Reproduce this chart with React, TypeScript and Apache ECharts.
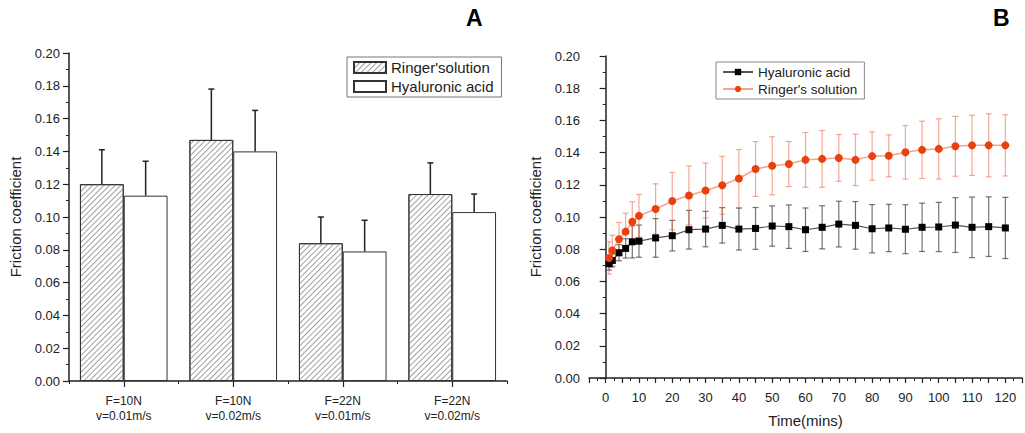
import React, { useEffect, useRef } from "react";
import * as echarts from "echarts";

// Panel A data
const categoriesA = ["F=10N\nv=0.01m/s", "F=10N\nv=0.02m/s", "F=22N\nv=0.01m/s", "F=22N\nv=0.02m/s"];
const ringerBar = [0.12, 0.147, 0.084, 0.114];
const ringerBarErr = [0.021, 0.031, 0.016, 0.019];
const haBar = [0.113, 0.14, 0.079, 0.103];
const haBarErr = [0.021, 0.025, 0.019, 0.011];

// Panel B data
const times = [1, 2, 4, 6, 8, 10, 15, 20, 25, 30, 35, 40, 45, 50, 55, 60, 65, 70, 75, 80, 85, 90, 95, 100, 105, 110, 115, 120];
const haLine = [0.071, 0.073, 0.0778, 0.0805, 0.0846, 0.085, 0.087, 0.0884, 0.0921, 0.0925, 0.0948, 0.0925, 0.0929, 0.0944, 0.094, 0.0921, 0.0936, 0.0956, 0.0948, 0.0927, 0.0932, 0.0924, 0.0936, 0.0938, 0.095, 0.0936, 0.094, 0.0932];
const haLineErr = [0.004, 0.004, 0.005, 0.006, 0.01, 0.01, 0.012, 0.0095, 0.012, 0.011, 0.011, 0.013, 0.013, 0.0125, 0.0135, 0.0135, 0.0134, 0.0142, 0.0148, 0.015, 0.0147, 0.0152, 0.015, 0.0153, 0.017, 0.0188, 0.0185, 0.019];
const ringerLine = [0.0745, 0.0792, 0.0862, 0.0909, 0.097, 0.1007, 0.105, 0.1099, 0.1134, 0.1165, 0.1197, 0.1239, 0.1298, 0.1318, 0.1329, 0.1355, 0.1361, 0.1367, 0.1355, 0.1378, 0.138, 0.1402, 0.1417, 0.1423, 0.1439, 0.1445, 0.1445, 0.1445];
const ringerLineErr = [0.01, 0.0095, 0.0104, 0.0115, 0.0125, 0.0133, 0.0156, 0.0178, 0.0183, 0.017, 0.018, 0.018, 0.017, 0.018, 0.014, 0.017, 0.0176, 0.0145, 0.016, 0.015, 0.013, 0.0166, 0.0178, 0.0187, 0.0186, 0.0187, 0.0196, 0.019];

const FONT = "Liberation Sans, Arial, sans-serif";
const TXT = "#222";
const AX = "#222";

const yAxisCommon = {
  type: "value",
  min: 0,
  max: 0.2,
  interval: 0.02,
  name: "Friction coefficient",
  nameLocation: "middle",
  nameGap: 46,
  nameTextStyle: { fontFamily: FONT, fontSize: 15, color: TXT },
  axisLine: { show: true, lineStyle: { color: AX, width: 1.5 } },
  axisTick: { show: true, length: 6, lineStyle: { color: AX, width: 1.2 } },
  minorTick: { show: true, splitNumber: 2, length: 3, lineStyle: { color: AX, width: 1 } },
  splitLine: { show: false },
  minorSplitLine: { show: false },
  axisLabel: { fontFamily: FONT, fontSize: 13, color: TXT, margin: 9, formatter: (v: number) => v.toFixed(2) },
};

function errBarA(offsetSign: number) {
  return (params: any, api: any) => {
    const idx = api.value(0);
    const val = api.value(1);
    const err = api.value(2);
    const slot = api.size([1, 0])[0];
    const off = offsetSign * slot * 0.2;
    const base = api.coord([idx, val]);
    const top = api.coord([idx, val + err]);
    const x = base[0] + off;
    const st = { stroke: "#222", lineWidth: 1.5 };
    return {
      type: "group",
      children: [
        { type: "line", shape: { x1: x, y1: base[1], x2: x, y2: top[1] }, style: st },
        { type: "line", shape: { x1: x - 3, y1: top[1], x2: x + 3, y2: top[1] }, style: st },
      ],
    };
  };
}

function errBarB(color: string) {
  return (params: any, api: any) => {
    const t = api.value(0);
    const v = api.value(1);
    const e = api.value(2);
    const hi = api.coord([t, v + e]);
    const lo = api.coord([t, v - e]);
    const st = { stroke: color, lineWidth: 1.2 };
    return {
      type: "group",
      children: [
        { type: "line", shape: { x1: hi[0], y1: hi[1], x2: lo[0], y2: lo[1] }, style: st },
        { type: "line", shape: { x1: hi[0] - 3, y1: hi[1], x2: hi[0] + 3, y2: hi[1] }, style: st },
        { type: "line", shape: { x1: lo[0] - 3, y1: lo[1], x2: lo[0] + 3, y2: lo[1] }, style: st },
      ],
    };
  };
}

export default function App() {
  const refA = useRef<HTMLDivElement>(null);
  const refB = useRef<HTMLDivElement>(null);

  useEffect(() => {
    document.body.style.margin = "0";
    const chartA = echarts.init(refA.current!, null, { renderer: "svg" });
    const chartB = echarts.init(refB.current!, null, { renderer: "svg" });

    const hatch = {
      symbol: "rect",
      symbolSize: 1,
      color: "#a0a0a0",
      dashArrayX: [1, 0],
      dashArrayY: [1, 3],
      rotation: -Math.PI / 4,
    };

    chartA.setOption({
      animation: false,
      backgroundColor: "#fff",
      textStyle: { fontFamily: FONT },
      grid: { left: 67, top: 53, width: 440, height: 328 },
      graphic: [
        { type: "text", left: 466, top: 6, style: { text: "A", fontFamily: FONT, fontSize: 23, fontWeight: "bold", fill: "#000" } },
      ],
      legend: {
        orient: "vertical",
        left: 347,
        top: 57,
        data: ["Ringer'solution", "Hyaluronic acid"],
        icon: "rect",
        itemWidth: 32,
        itemHeight: 11,
        itemGap: 4,
        padding: [3, 8, 3, 6],
        borderColor: "#777",
        borderWidth: 1,
        textStyle: { fontFamily: FONT, fontSize: 15, color: TXT },
        selectedMode: false,
      },
      xAxis: [
        {
          type: "category",
          data: categoriesA,
          axisLine: { show: true, lineStyle: { color: AX, width: 1.5 } },
          axisTick: { show: true, alignWithLabel: true, length: 6, lineStyle: { color: AX, width: 1.2 } },
          axisLabel: { fontFamily: FONT, fontSize: 12, color: TXT, margin: 12, lineHeight: 15 },
        },
        {
          type: "category",
          data: categoriesA,
          position: "bottom",
          axisLine: { show: false },
          axisTick: { show: true, length: 3, lineStyle: { color: AX, width: 1 } },
          axisLabel: { show: false },
        },
      ],
      yAxis: yAxisCommon,
      series: [
        {
          name: "Ringer'solution",
          type: "bar",
          data: ringerBar,
          barGap: "0%",
          barCategoryGap: "20%",
          itemStyle: { color: "#fff", borderColor: "#333", borderWidth: 1, decal: hatch },
        },
        {
          name: "Hyaluronic acid",
          type: "bar",
          data: haBar,
          barGap: "0%",
          barCategoryGap: "20%",
          itemStyle: { color: "#fff", borderColor: "#333", borderWidth: 1 },
        },
        {
          type: "custom",
          renderItem: errBarA(-1),
          data: ringerBar.map((v, i) => [i, v, ringerBarErr[i]]),
          encode: { x: 0, y: 1 },
          z: 5,
        },
        {
          type: "custom",
          renderItem: errBarA(1),
          data: haBar.map((v, i) => [i, v, haBarErr[i]]),
          encode: { x: 0, y: 1 },
          z: 5,
        },
      ],
    });

    chartB.setOption({
      animation: false,
      backgroundColor: "#fff",
      textStyle: { fontFamily: FONT },
      grid: { left: 68, top: 56, width: 435, height: 326 },
      graphic: [
        { type: "text", left: 473, top: 6, style: { text: "B", fontFamily: FONT, fontSize: 23, fontWeight: "bold", fill: "#000" } },
      ],
      legend: {
        orient: "vertical",
        left: 196,
        top: 62,
        data: ["Hyaluronic acid", "Ringer's solution"],
        itemWidth: 30,
        itemHeight: 8,
        itemGap: 3,
        padding: [3, 7, 3, 6],
        borderColor: "#888",
        borderWidth: 1,
        textStyle: { fontFamily: FONT, fontSize: 13.5, color: TXT },
        selectedMode: false,
      },
      xAxis: {
        type: "value",
        min: -5,
        max: 125,
        interval: 5,
        name: "Time(mins)",
        nameLocation: "middle",
        nameGap: 35,
        nameTextStyle: { fontFamily: FONT, fontSize: 15, color: TXT },
        axisLine: { show: true, lineStyle: { color: AX, width: 1.5 } },
        axisTick: { show: true, length: 5, lineStyle: { color: AX, width: 1.2 } },
        minorTick: { show: true, splitNumber: 2, length: 3, lineStyle: { color: AX, width: 1 } },
        splitLine: { show: false },
        axisLabel: {
          fontFamily: FONT,
          fontSize: 13,
          color: TXT,
          margin: 13,
          formatter: (v: number) => (v >= 0 && v <= 120 && v % 10 === 0 ? String(v) : ""),
        },
      },
      yAxis: { ...yAxisCommon, nameGap: 46 },
      series: [
        {
          type: "custom",
          renderItem: errBarB("rgba(70,70,70,0.75)"),
          data: times.map((t, i) => [t, haLine[i], haLineErr[i]]),
          encode: { x: 0, y: 1 },
          z: 1,
        },
        {
          type: "custom",
          renderItem: errBarB("rgba(238,110,80,0.6)"),
          data: times.map((t, i) => [t, ringerLine[i], ringerLineErr[i]]),
          encode: { x: 0, y: 1 },
          z: 1,
        },
        {
          name: "Hyaluronic acid",
          type: "line",
          data: times.map((t, i) => [t, haLine[i]]),
          symbol: "rect",
          symbolSize: 7,
          itemStyle: { color: "#000" },
          lineStyle: { color: "#555", width: 1.2 },
          z: 3,
        },
        {
          name: "Ringer's solution",
          type: "line",
          data: times.map((t, i) => [t, ringerLine[i]]),
          symbol: "circle",
          symbolSize: 8,
          itemStyle: { color: "#e8410e" },
          lineStyle: { color: "#f3a38e", width: 1.5 },
          z: 4,
        },
      ],
    });

    return () => {
      chartA.dispose();
      chartB.dispose();
    };
  }, []);

  return (
    <div style={{ display: "flex", width: 1025, height: 433 }}>
      <div ref={refA} style={{ width: 520, height: 433 }} />
      <div ref={refB} style={{ width: 505, height: 433 }} />
    </div>
  );
}
